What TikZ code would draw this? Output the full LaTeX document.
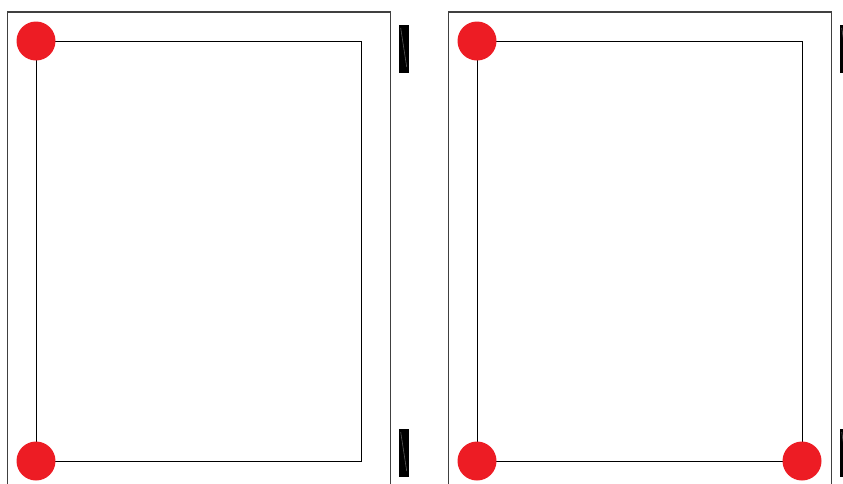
\documentclass[tikz,border=0pt]{standalone}
\usepackage{tikz}
\definecolor{dotred}{RGB}{237, 28, 36}
\definecolor{framegray}{RGB}{64, 64, 64}
\definecolor{shine}{RGB}{90, 90, 90}

\begin{document}
\begin{tikzpicture}[
	x=1pt, y=-1pt,
	dot/.style={circle, fill=dotred, minimum size=39pt, inner sep=0pt},
	frame/.style={color=framegray, line width=1.1pt},
	bar/.style={fill=black}
	]
	\useasboundingbox (0,0) rectangle (843,483);
	\clip (0,0) rectangle (843,483);

	% left panel
	\draw[frame]
		(7.5,490) -- (7.5,12) -- (390.5,12) -- (390.5,490);
	\coordinate (lTL) at (36,41);
	\coordinate (lTR) at (361,41);
	\coordinate (lBR) at (361,461);
	\coordinate (lBL) at (36,461);
	\draw[color=black, line width=0.9pt]
		(lTL) -- (lTR) -- (lBR) -- (lBL) -- cycle;
	\node[dot] (lTop) at (lTL) {};
	\node[dot] (lBot) at (lBL) {};

	% right panel
	\draw[frame]
		(448.5,490) -- (448.5,12) -- (831.5,12) -- (831.5,490);
	\coordinate (rTL) at (477,41);
	\coordinate (rTR) at (802,41);
	\coordinate (rBR) at (802,461);
	\coordinate (rBL) at (477,461);
	\draw[color=black, line width=0.9pt]
		(rTL) -- (rTR) -- (rBR) -- (rBL) -- cycle;
	\node[dot] (rTop) at (rTL) {};
	\node[dot] (rBot) at (rBL) {};
	\node[dot] (rRight) at (rBR) {};

	% side bars
	\foreach \bx/\by in {399/25, 399/429, 840/25, 840/429}{
		\fill[bar] (\bx,\by) rectangle ++(10,48);
		\draw[color=shine, line width=0.6pt]
			(\bx+1.7,\by+3) -- (\bx+7.7,\by+42);
	}
\end{tikzpicture}
\end{document}
